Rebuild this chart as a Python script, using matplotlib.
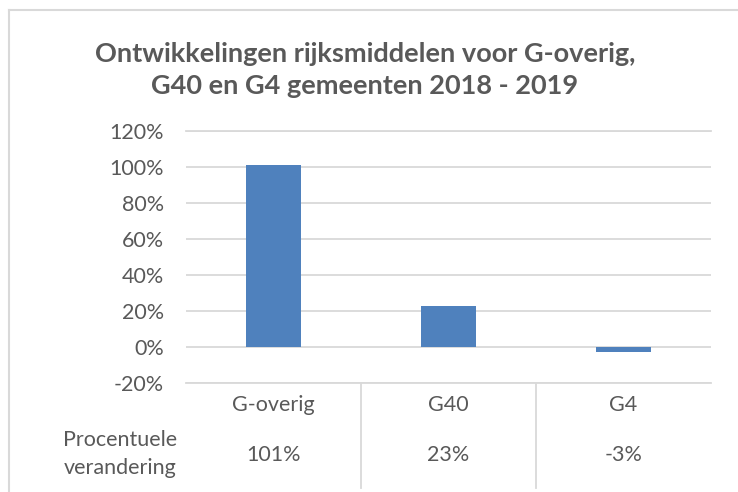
import matplotlib
matplotlib.use("Agg")
import matplotlib.pyplot as plt
from matplotlib.lines import Line2D
from matplotlib.transforms import blended_transform_factory
from matplotlib.ticker import FuncFormatter

# ---- data ----
categories = ["G-overig", "G40", "G4"]
values = [1.01, 0.23, -0.03]
value_labels = ["101%", "23%", "-3%"]
row_label = "Procentuele\nverandering"
title = "Ontwikkelingen rijksmiddelen voor G-overig,\nG40 en G4 gemeenten 2018 - 2019"
yticks = [-0.2, 0.0, 0.2, 0.4, 0.6, 0.8, 1.0, 1.2]

TEXT = "#595959"
GRID = "#d9d9d9"
BAR = "#4f81bd"
FONT = "Lato"
FS = 15.5

W, H = 738, 492
fig = plt.figure(figsize=(W / 100, H / 100), dpi=100)
fig.patch.set_facecolor("white")

def fx(px):
    return px / W

def fy(py):
    return 1 - py / H

left, right, top, bottom = 186, 711, 131, 383
ax = fig.add_axes([fx(left), fy(bottom), (right - left) / W, (bottom - top) / H])

x = list(range(len(categories)))
ax.bar(x, values, width=0.31, color=BAR, zorder=3)
ax.set_xlim(-0.5, len(categories) - 0.5)
ax.set_ylim(yticks[0], yticks[-1])
ax.set_yticks(yticks)
ax.yaxis.set_major_formatter(FuncFormatter(lambda v, p: f"{v*100:.0f}%"))
ax.set_xticks([])
ax.grid(axis="y", color=GRID, linewidth=1.3, zorder=0)
for s in ax.spines.values():
    s.set_visible(False)
ax.tick_params(axis="y", length=0, pad=16, labelsize=FS, labelcolor=TEXT)
for lab in ax.get_yticklabels():
    lab.set_fontfamily(FONT)
ax.set_facecolor("none")
ax.axhline(yticks[0], color=GRID, linewidth=1.3, zorder=0, clip_on=False)
ax.axhline(yticks[-1], color=GRID, linewidth=1.3, zorder=0, clip_on=False)

# ---- data table below the axis ----
bt = blended_transform_factory(ax.transData, fig.transFigure)
for i, (c, v) in enumerate(zip(categories, value_labels)):
    ax.text(i, fy(405), c, transform=bt, ha="center", va="center",
            fontsize=FS, color=TEXT, family=FONT, clip_on=False)
    ax.text(i, fy(455), v, transform=bt, ha="center", va="center",
            fontsize=FS, color=TEXT, family=FONT, clip_on=False)
for i in range(1, len(categories)):
    ax.plot([i - 0.5, i - 0.5], [fy(bottom), fy(488)], transform=bt,
            color=GRID, linewidth=1.3, clip_on=False)
fig.text(fx(120), fy(454), row_label, ha="center", va="center",
         fontsize=FS, color=TEXT, family=FONT, linespacing=1.45)

# ---- title ----
fig.text(fx(365), fy(70), title, ha="center", va="center",
         fontsize=19.5, fontweight="bold", color=TEXT, family=FONT,
         linespacing=1.45)

# ---- chart border ----
fig.add_artist(Line2D([fx(9), 1.0], [fy(10), fy(10)], transform=fig.transFigure,
                      color=GRID, linewidth=1.5))
fig.add_artist(Line2D([fx(9), fx(9)], [fy(10), 0.0], transform=fig.transFigure,
                      color=GRID, linewidth=1.5))

fig.savefig("out.png", dpi=100, facecolor="white")
